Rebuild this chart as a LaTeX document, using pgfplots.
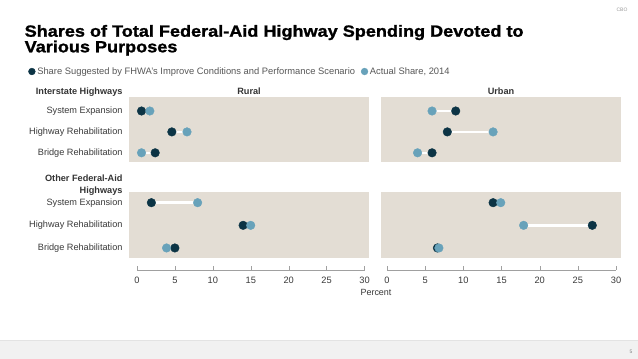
\documentclass[border=0pt]{standalone}
\usepackage{fontspec}
\setmainfont{Liberation Sans}
\newfontfamily\titlefont{Liberation Sans}[FakeStretch=1.12, BoldFeatures={FakeBold=1.3}]
\usepackage{pgfplots}
\usepackage{pgfplotstable}
\pgfplotsset{compat=1.18}
\definecolor{dk}{HTML}{0C3445}
\definecolor{lt}{HTML}{68A2BA}
\definecolor{bgp}{HTML}{E3DDD4}
\definecolor{lbl}{HTML}{3A3A3A}
\definecolor{axg}{HTML}{A0A0A0}

% row: 1 = System Expansion, 2 = Highway Rehabilitation, 3 = Bridge Rehabilitation
\pgfplotstableread{
row dark light
1 0.6 1.7
2 4.6 6.6
3 2.4 0.6
}\ruralI
\pgfplotstableread{
row dark light
1 9.0 5.9
2 7.9 13.9
3 5.9 4.0
}\urbanI
\pgfplotstableread{
row dark light
1 1.9 8.0
2 14.0 15.0
3 5.0 3.9
}\ruralO
\pgfplotstableread{
row dark light
1 13.9 14.9
2 26.9 17.9
3 6.6 6.8
}\urbanO

\pgfplotsset{
 panel/.style={scale only axis, width=240bp, anchor=south west, y dir=reverse,
   axis background/.style={fill=bgp}, axis line style={draw=none},
   xtick=\empty, ytick={1,2,3}, major tick length=0pt, clip=false},
 panelL/.style={panel, xmin=-1.05, xmax=30.6,
   yticklabels={System Expansion, Highway Rehabilitation, Bridge Rehabilitation},
   yticklabel style={font=\fontsize{9.2}{11}\selectfont, text=lbl, xshift=-3bp}},
 panelR/.style={panel, xmin=-0.79, xmax=30.66, yticklabels={}},
 dkm/.style={only marks, mark=*, mark size=4.3bp, mark options={fill=dk, draw=dk}},
 ltm/.style={only marks, mark=*, mark size=4.3bp, mark options={fill=lt, draw=lt}},
 conn/.style={white, line width=2.4bp, forget plot, mark=none},
 tickax/.style={scale only axis, height=10bp, anchor=south west,
   axis x line*=bottom, axis y line=none, x axis line style={-, draw=axg},
   xmin=0, xmax=30, ymin=0, ymax=1, xtick={0,5,...,30}, tick align=inside, major tick length=4bp,
   tick style={draw=axg}, xticklabel style={font=\fontsize{9.3}{11}\selectfont, text=lbl, yshift=-3.5bp},
   /pgf/number format/assume math mode=true},
}

\begin{document}
\begin{tikzpicture}
\path[use as bounding box, fill=white] (0bp,0bp) rectangle (638bp,359bp);
\fill[gray!11] (0bp,0bp) rectangle (638bp,19bp);
\draw[gray!22] (0bp,19bp) -- (638bp,19bp);
\node[font=\fontsize{5}{6}\selectfont, text=gray] at (631bp,7bp) {5};
\node[font=\fontsize{5}{6}\selectfont, text=gray!80] at (622bp,349bp) {CBO};

% title
\node[anchor=base west, inner sep=0pt, font=\titlefont\bfseries\fontsize{16.2}{16}\selectfont] at (24.5bp,322.3bp) {Shares of Total Federal-Aid Highway Spending Devoted to};
\node[anchor=base west, inner sep=0pt, font=\titlefont\bfseries\fontsize{16.2}{16}\selectfont] at (24.5bp,306.7bp) {Various Purposes};

% headers
\node[anchor=base east, inner sep=0pt, font=\bfseries\fontsize{9.2}{11}\selectfont, text=lbl!90!black] at (122.7bp,264bp) {Interstate Highways};
\node[anchor=base, inner sep=0pt, font=\bfseries\fontsize{9.2}{11}\selectfont, text=lbl!90!black] at (249bp,264bp) {Rural};
\node[anchor=base, inner sep=0pt, font=\bfseries\fontsize{9.2}{11}\selectfont, text=lbl!90!black] at (501bp,264bp) {Urban};
\node[anchor=base east, inner sep=0pt, font=\bfseries\fontsize{9.2}{11}\selectfont, text=lbl!90!black] at (122.7bp,177.3bp) {Other Federal-Aid};
\node[anchor=base east, inner sep=0pt, font=\bfseries\fontsize{9.2}{11}\selectfont, text=lbl!90!black] at (122.7bp,165.7bp) {Highways};

% top-left: Interstate, Rural
\begin{axis}[panelL, at={(129bp,197bp)}, height=65bp, ymin=0.33, ymax=3.44,
  legend style={at={(-0.4196,1.392)}, anchor=west, draw=none, fill=none, inner sep=0pt,
    font=\fontsize{9.4}{11}\selectfont, text=lbl!85, legend columns=-1,
    /tikz/every even column/.append style={column sep=4bp}},
  legend image code/.code={\draw[#1, mark size=3.4bp] plot coordinates {(0bp,0bp)};}]
\addlegendimage{dkm}
\addlegendentry{Share Suggested by FHWA's Improve Conditions and Performance Scenario}
\addlegendimage{ltm}
\addlegendentry{Actual Share, 2014}
\addplot[conn] coordinates {(0.6,1) (1.7,1)};
\addplot[conn] coordinates {(4.6,2) (6.6,2)};
\addplot[conn] coordinates {(2.4,3) (0.6,3)};
\addplot[dkm, forget plot] table[x=dark, y=row] {\ruralI};
\addplot[ltm, forget plot] table[x=light, y=row] {\ruralI};
\end{axis}

% top-right: Interstate, Urban
\begin{axis}[panelR, at={(381bp,197bp)}, height=65bp, ymin=0.33, ymax=3.44]
\addplot[conn] coordinates {(9.0,1) (5.9,1)};
\addplot[conn] coordinates {(7.9,2) (13.9,2)};
\addplot[conn] coordinates {(5.9,3) (4.0,3)};
\addplot[dkm] table[x=dark, y=row] {\urbanI};
\addplot[ltm] table[x=light, y=row] {\urbanI};
\end{axis}

% bottom-left: Other, Rural
\begin{axis}[panelL, at={(129bp,101bp)}, height=66bp, ymin=0.528, ymax=3.443]
\addplot[conn] coordinates {(1.9,1) (8.0,1)};
\addplot[conn] coordinates {(14.0,2) (15.0,2)};
\addplot[conn] coordinates {(5.0,3) (3.9,3)};
\addplot[dkm] table[x=dark, y=row] {\ruralO};
\addplot[ltm] table[x=light, y=row] {\ruralO};
\end{axis}

% bottom-right: Other, Urban
\begin{axis}[panelR, at={(381bp,101bp)}, height=66bp, ymin=0.528, ymax=3.443]
\addplot[conn] coordinates {(13.9,1) (14.9,1)};
\addplot[conn] coordinates {(26.9,2) (17.9,2)};
\addplot[conn] coordinates {(6.6,3) (6.8,3)};
\addplot[dkm] table[x=dark, y=row] {\urbanO};
\addplot[ltm] table[x=light, y=row] {\urbanO};
\end{axis}

% x axes
\begin{axis}[tickax, at={(137bp,89bp)}, width=227.5bp]
\addplot[draw=none, forget plot] coordinates {(0,0)};
\end{axis}
\begin{axis}[tickax, at={(387bp,89bp)}, width=229bp]
\addplot[draw=none, forget plot] coordinates {(0,0)};
\end{axis}

\node[anchor=base, inner sep=0pt, font=\fontsize{9}{11}\selectfont, text=lbl] at (376bp,63.3bp) {Percent};
\end{tikzpicture}
\end{document}
